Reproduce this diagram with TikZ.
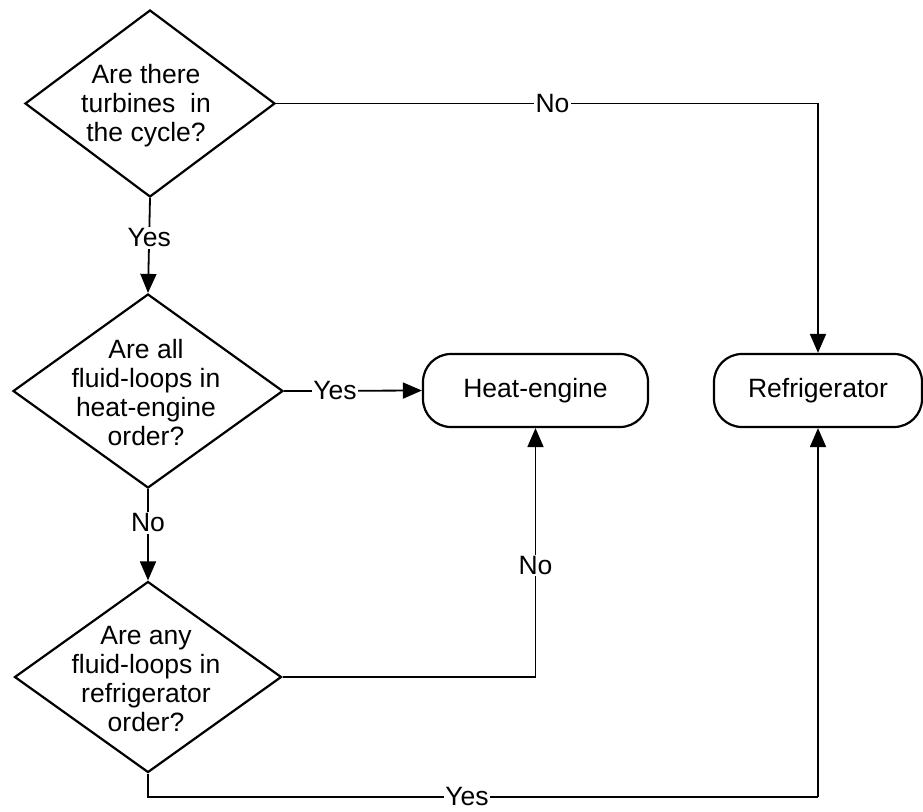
\documentclass[tikz,border=0pt]{standalone}
\usepackage{fontspec}
\setmainfont{Liberation Sans}
\usetikzlibrary{shapes.geometric,arrows.meta}
\begin{document}
\begin{tikzpicture}[x=1pt,y=-1pt,
  dia/.style={draw,line width=2.2pt,shape=diamond,inner sep=0pt,minimum width=#1},
  qtext/.style={align=center,inner sep=0pt,font=\fontsize{26.5}{29}\selectfont},
  term/.style={draw,line width=2.2pt,rounded corners=28pt,minimum height=73pt,inner sep=0pt,font=\fontsize{26.5}{29}\selectfont},
  arr/.style={line width=1.8pt,-{Triangle[length=19pt,width=16pt]}},
  conn/.style={line width=1.8pt},
  lbl/.style={fill=white,inner sep=1.5pt,font=\fontsize{26.5}{29}\selectfont}]
\useasboundingbox (0,0) rectangle (923,811);
% decisions
\node[dia=250pt,minimum height=187pt] (d1) at (150,103.5) {};
\node[qtext] (d1t) at (146,106) {Are there\\turbines\ \ in\\the cycle?};
\node[dia=270pt,minimum height=194pt] (d2) at (148,391) {};
\node[qtext] (d2t) at (146,393) {Are all\\fluid-loops in\\heat-engine\\order?};
\node[dia=267pt,minimum height=191pt] (d3) at (148,677) {};
\node[qtext] (d3t) at (146,679) {Are any\\fluid-loops in\\refrigerator\\order?};
% terminals
\node[term,minimum width=225pt] (he) at (535.5,390.5) {Heat-engine};
\node[term,minimum width=208pt] (ref) at (818,390.5) {Refrigerator};
% connectors
\draw[arr] (d1.east) -| node[lbl,pos=0.255] {No} (ref.north);
\draw[arr] (d1.south) -- node[lbl,pos=0.42] {Yes} (d2.north);
\draw[arr] (d2.east) -- node[lbl,pos=0.37] {Yes} (he.west);
\draw[arr] (d2.south) -- node[lbl,pos=0.37] {No} (d3.north);
\draw[arr] (d3.east) -| node[lbl,pos=0.724] {No} (he.south);
\coordinate (c1) at (148,797);
\coordinate (c2) at (818,797);
\draw[conn] (d3.south) -- (c1) -- node[lbl,pos=0.476,inner ysep=0pt] {Yes} (c2);
\draw[arr] (c2) -- (ref.south);
\end{tikzpicture}
\end{document}
